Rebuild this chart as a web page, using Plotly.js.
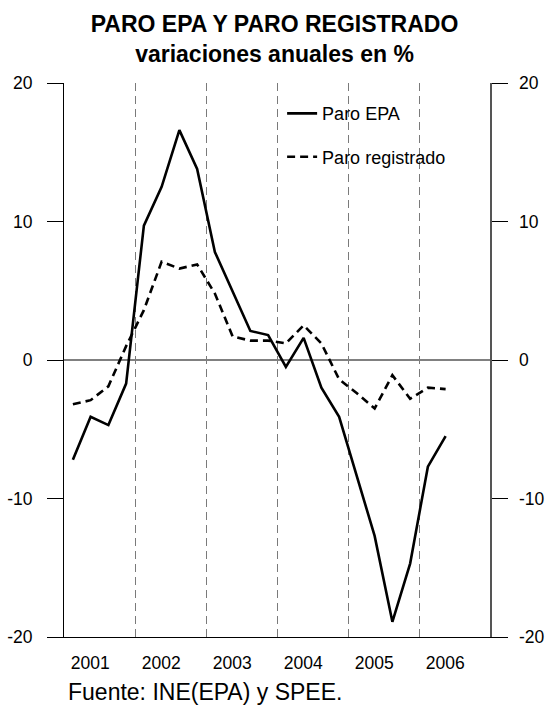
<!DOCTYPE html>
<html>
<head>
<meta charset="utf-8">
<script src="https://cdn.plot.ly/plotly-3.0.1.min.js"></script>
<style>html,body{margin:0;padding:0;background:#fff;}#chart{width:549px;height:706px;}</style>
</head>
<body>
<div id="chart"></div>
<script>
// Quarterly data, 2001 Q1 .. 2006 Q2 (annual % change)
const quarters = [
  "2001T1","2001T2","2001T3","2001T4",
  "2002T1","2002T2","2002T3","2002T4",
  "2003T1","2003T2","2003T3","2003T4",
  "2004T1","2004T2","2004T3","2004T4",
  "2005T1","2005T2","2005T3","2005T4",
  "2006T1","2006T2"
];
const paroEPA = [-7.2, -4.1, -4.7, -1.7, 9.7, 12.5, 16.6, 13.8, 7.8, 4.9, 2.1, 1.8,
                 -0.5, 1.6, -2.0, -4.1, -8.4, -12.7, -18.9, -14.7, -7.7, -5.5];
const paroRegistrado = [-3.2, -2.9, -1.9, 1.0, 3.6, 7.1, 6.6, 6.9, 4.8, 1.7, 1.4, 1.4,
                        1.2, 2.5, 1.2, -1.4, -2.4, -3.5, -1.1, -2.8, -2.0, -2.1];
const years = [2001, 2002, 2003, 2004, 2005, 2006];
const yTicks = [-20, -10, 0, 10, 20];
const yTickText = ["-20", "-10", "0", "10", "20"];
const seriesNames = ["Paro EPA", "Paro registrado"];
const titleText = "PARO EPA Y PARO REGISTRADO<br>variaciones anuales en %";
const sourceText = "Fuente: INE(EPA) y SPEE.";

// quarter label -> decimal position (middle of quarter)
function qpos(q) {
  const y = parseInt(q.slice(0, 4), 10);
  const n = parseInt(q.slice(5), 10);
  return y + (n - 0.5) / 4;
}
const xq = quarters.map(qpos);
const boundaries = years.map(y => y + 1);
const labelPos = years.map(y => y + 0.37);

const FONT = "Liberation Sans, Arial, sans-serif";

const traces = [
  {
    x: xq, y: paroEPA, name: seriesNames[0], type: "scatter", mode: "lines",
    line: {color: "#000", width: 2.6}, legendgroup: "a",
    xaxis: "x", yaxis: "y", hoverinfo: "skip"
  },
  {
    x: xq, y: paroRegistrado, name: seriesNames[1], type: "scatter", mode: "lines",
    line: {color: "#000", width: 2.6, dash: "8px,5px"}, legendgroup: "b",
    xaxis: "x2", yaxis: "y2", hoverinfo: "skip"
  }
];

const layout = {
  width: 549, height: 706,
  margin: {l: 64, r: 59, t: 83, b: 69, pad: 0},
  paper_bgcolor: "#fff", plot_bgcolor: "#fff",
  font: {family: FONT, color: "#000", size: 17.5},
  title: {
    text: titleText,
    font: {family: FONT, size: 23, weight: "bold", color: "#000"},
    x: 0.5, xanchor: "center", y: 0.955, yanchor: "top", yref: "container"
  },
  showlegend: true,
  legend: {
    x: 0.512, xanchor: "left", y: 0.978, yanchor: "top",
    bgcolor: "rgba(0,0,0,0)", borderwidth: 0,
    font: {family: FONT, size: 18, color: "#000"},
    traceorder: "grouped", tracegroupgap: 17, itemwidth: 30
  },
  xaxis: {
    range: [2001, 2007], tickmode: "array", tickvals: labelPos,
    ticktext: years.map(String), ticks: "", showgrid: false, zeroline: false,
    showline: true, linecolor: "#000", linewidth: 1,
    tickfont: {family: FONT, size: 17.5, color: "#000"},
    ticklabelstandoff: 10, fixedrange: true
  },
  xaxis2: {
    range: [2001, 2007], overlaying: "x", anchor: "y2", side: "bottom",
    tickmode: "array", tickvals: boundaries, showticklabels: false, ticks: "",
    showgrid: true, gridcolor: "#7a7a7a", gridwidth: 1, griddash: "8px,5px",
    zeroline: false, showline: false, fixedrange: true
  },
  yaxis: {
    range: [-20, 20], tickmode: "array", tickvals: yTicks, ticktext: yTickText,
    ticks: "outside", ticklen: 16, tickcolor: "#000", tickwidth: 1,
    showline: true, linecolor: "#000", linewidth: 1,
    showgrid: false, zeroline: true, zerolinecolor: "#808080", zerolinewidth: 1.5,
    tickfont: {family: FONT, size: 17.5, color: "#000"},
    ticklabelstandoff: 11, fixedrange: true
  },
  yaxis2: {
    range: [-20, 20], overlaying: "y", anchor: "x2", side: "right",
    tickmode: "array", tickvals: yTicks, ticktext: yTickText,
    ticks: "outside", ticklen: 16, tickcolor: "#000", tickwidth: 1,
    showline: true, linecolor: "#555", linewidth: 1.5,
    showgrid: false, zeroline: false,
    tickfont: {family: FONT, size: 17.5, color: "#000"},
    ticklabelstandoff: 8, fixedrange: true
  },
  annotations: [
    {
      text: sourceText, xref: "paper", yref: "paper", x: 0.005, y: -0.099,
      xanchor: "left", yanchor: "middle", showarrow: false,
      font: {family: FONT, size: 23, color: "#000"}
    }
  ]
};

Plotly.newPlot("chart", traces, layout, {staticPlot: true, displayModeBar: false});
</script>
</body>
</html>
